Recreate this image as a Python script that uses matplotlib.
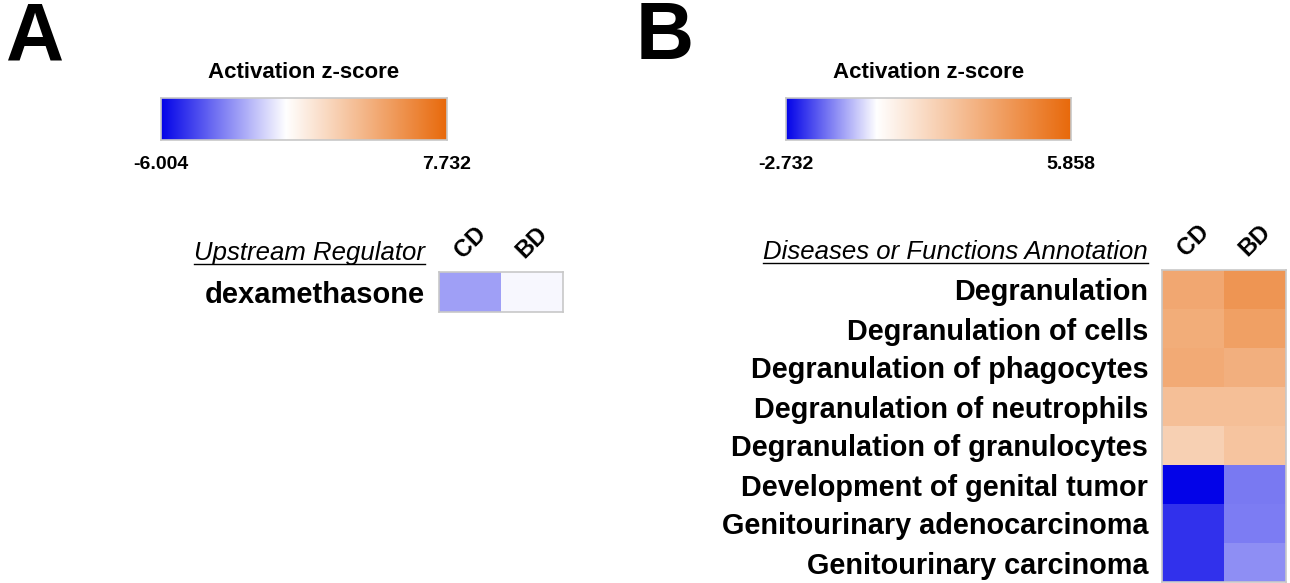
import numpy as np
import matplotlib
matplotlib.use("Agg")
import matplotlib.pyplot as plt
from matplotlib.colors import LinearSegmentedColormap, Normalize
from matplotlib.transforms import offset_copy
from matplotlib.lines import Line2D

plt.rcParams['font.family'] = ['Liberation Sans', 'DejaVu Sans']

# ---- data ----
conditions = ["CD", "BD"]

regulators = ["dexamethasone"]
regulator_z = [[-2.3, -0.2]]
range_a = (-6.004, 7.732)

annotations = [
    "Degranulation",
    "Degranulation of cells",
    "Degranulation of phagocytes",
    "Degranulation of neutrophils",
    "Degranulation of granulocytes",
    "Development of genital tumor",
    "Genitourinary adenocarcinoma",
    "Genitourinary carcinoma",
]
cd_z = [3.4, 3.2, 3.3, 2.5, 1.8, -2.732, -2.2, -2.2]
bd_z = [4.1, 3.7, 3.1, 2.5, 2.3, -1.45, -1.4, -1.2]
range_b = (-2.732, 5.858)

BLUE = "#0303E8"
ORANGE = "#E8690B"
EDGE = "#C8C8C8"

W, H = 1290, 583
fig = plt.figure(figsize=(W / 100, H / 100), dpi=100)


def px(x0, y0, x1, y1):
    return [x0 / W, 1 - y1 / H, (x1 - x0) / W, (y1 - y0) / H]


def zmap(vmin, vmax):
    f = (0 - vmin) / (vmax - vmin)
    cmap = LinearSegmentedColormap.from_list(
        "z", [(0, BLUE), (f, "white"), (1, ORANGE)])
    return cmap, Normalize(vmin, vmax)


def colorbar(box, vmin, vmax):
    cmap, norm = zmap(vmin, vmax)
    ax = fig.add_axes(px(*box))
    grad = np.linspace(vmin, vmax, 512)[None, :]
    ax.imshow(grad, cmap=cmap, norm=norm, aspect="auto",
              extent=(vmin, vmax, 0, 1))
    ax.set_xticks([]); ax.set_yticks([])
    for s in ax.spines.values():
        s.set_color(EDGE); s.set_linewidth(1.2)
    cx = (box[0] + box[2]) / 2
    fig.text(cx / W, 1 - 73 / H, "Activation z-score", ha="center",
             va="center", fontsize=16, fontweight="bold")
    fig.text(box[0] / W, 1 - 165 / H, f"{vmin:.3f}", ha="center",
             va="center", fontsize=14, fontweight="bold")
    fig.text(box[2] / W, 1 - 165 / H, f"{vmax:.3f}", ha="center",
             va="center", fontsize=14, fontweight="bold")
    return cmap, norm


def heatmap(box, data, rows, cmap, norm, fs):
    ax = fig.add_axes(px(*box))
    ax.imshow(np.array(data), cmap=cmap, norm=norm, aspect="auto",
              interpolation="nearest")
    ax.set_xticks([])
    ax.set_yticks(range(len(rows)), rows, fontsize=fs, fontweight="bold")
    ax.tick_params(axis="y", length=0, pad=10)
    for s in ax.spines.values():
        s.set_color(EDGE); s.set_linewidth(1.2)
    tr = offset_copy(ax.transData, fig=fig, x=0, y=30, units="dots")
    for j, c in enumerate(conditions):
        ax.text(j, -0.5, c, transform=tr, rotation=45, ha="center",
                va="center", fontsize=17, fontweight="bold")
    return ax


def header(text, x_right, y_center, fs):
    t = fig.text(x_right / W, 1 - y_center / H, text, ha="right",
                 va="center", fontsize=fs, fontstyle="italic")
    fig.canvas.draw()
    bb = t.get_window_extent(fig.canvas.get_renderer())
    yline = bb.y0 + 1
    fig.add_artist(Line2D([bb.x0 / W, bb.x1 / W], [yline / H, yline / H],
                          color="black", lw=1.0))


# panel letters
fig.text(6 / W, 1 - 38 / H, "A", fontsize=58, fontweight="bold", va="center")
fig.text(636 / W, 1 - 38 / H, "B", fontsize=58, fontweight="bold", va="center")

# panel A
cmap_a, norm_a = colorbar((161, 98, 447, 140), *range_a)
heatmap((439, 272, 563, 312), regulator_z, regulators, cmap_a, norm_a, 21)
header("Upstream Regulator", 425, 253, 18.5)

# panel B
cmap_b, norm_b = colorbar((786, 98, 1071, 140), *range_b)
data_b = np.column_stack([cd_z, bd_z])
heatmap((1162, 270, 1286, 582), data_b, annotations, cmap_b, norm_b, 20.8)
header("Diseases or Functions Annotation", 1148, 252, 18.5)

fig.savefig("out.png", dpi=100)
